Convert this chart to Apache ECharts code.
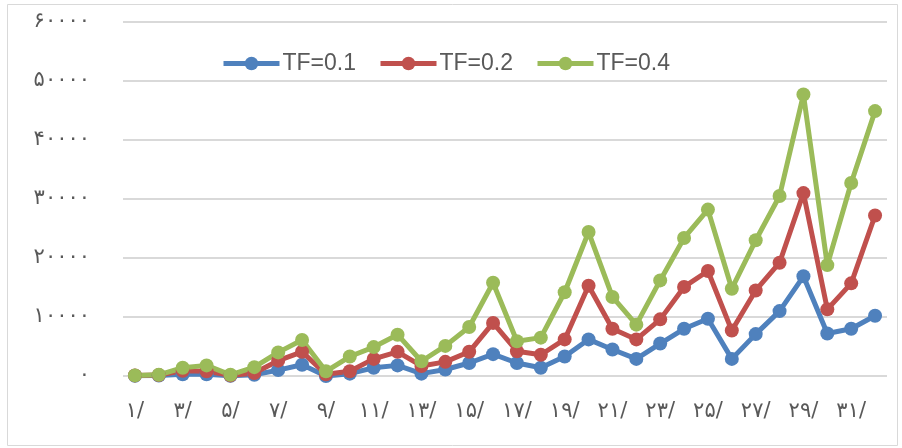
<!DOCTYPE html>
<html>
<head>
<meta charset="utf-8">
<script src="https://cdn.jsdelivr.net/npm/echarts@6/dist/echarts.min.js"></script>
<style>
  html, body { margin: 0; padding: 0; background: #ffffff; }
  #chart { width: 902px; height: 448px; }
</style>
</head>
<body>
<div id="chart"></div>
<script>
// Period labels 1..32 in Persian digits
const categories = [
  '۱/','۲/','۳/','۴/','۵/','۶/','۷/','۸/','۹/','۱۰/','۱۱/','۱۲/','۱۳/','۱۴/','۱۵/','۱۶/',
  '۱۷/','۱۸/','۱۹/','۲۰/','۲۱/','۲۲/','۲۳/','۲۴/','۲۵/','۲۶/','۲۷/','۲۸/','۲۹/','۳۰/','۳۱/','۳۲/'
];

// Value-axis tick labels (0 .. 60000 step 10000)
const yTickLabels = ['۰','۱۰۰۰۰','۲۰۰۰۰','۳۰۰۰۰','۴۰۰۰۰','۵۰۰۰۰','۶۰۰۰۰'];

const seriesNames = ['TF=0.1', 'TF=0.2', 'TF=0.4'];

const tf01 = [50, 80, 300, 300, 50, 200, 1000, 1900, 0, 400, 1400, 1800, 400, 1100, 2200, 3700,
              2200, 1400, 3300, 6200, 4500, 2900, 5500, 8000, 9700, 2900, 7100, 11000, 16900, 7200, 8000, 10200];
const tf02 = [100, 150, 900, 800, 100, 500, 2600, 4100, 300, 800, 2900, 4100, 1700, 2400, 4100, 9000,
              4200, 3600, 6200, 15300, 8000, 6200, 9600, 15100, 17800, 7700, 14500, 19200, 31000, 11300, 15700, 27200];
const tf04 = [100, 200, 1400, 1800, 200, 1500, 4000, 6100, 800, 3300, 4900, 7000, 2500, 5100, 8300, 15800,
              5900, 6500, 14200, 24400, 13400, 8700, 16200, 23400, 28200, 14800, 23000, 30500, 47700, 18800, 32700, 44900];

const colors = ['#4f81bd', '#c0504d', '#9bbb59'];

const chart = echarts.init(document.getElementById('chart'));

function lineSeries(name, data, color) {
  return {
    name: name,
    type: 'line',
    data: data,
    symbol: 'circle',
    symbolSize: 14,
    lineStyle: { width: 5, color: color },
    itemStyle: { color: color },
    emphasis: { disabled: true }
  };
}

chart.setOption({
  animation: false,
  backgroundColor: '#ffffff',
  color: colors,
  graphic: [{
    type: 'rect',
    shape: { x: 7.5, y: 4.5, width: 890, height: 441 },
    style: { fill: 'none', stroke: '#d9d9d9', lineWidth: 1 },
    silent: true
  }],
  legend: {
    left: 216,
    top: 47,
    itemWidth: 56,
    itemHeight: 17,
    itemGap: 22,
    lineStyle: { width: 5 },
    textStyle: { fontFamily: 'Liberation Sans', fontSize: 23, color: '#595959', padding: [0, 0, 0, -2] },
    data: seriesNames
  },
  grid: { left: 123, right: 15, top: 22, bottom: 72 },
  xAxis: {
    type: 'category',
    data: categories,
    boundaryGap: true,
    axisLine: { show: false },
    axisTick: { show: false },
    axisLabel: {
      interval: 1,
      margin: 25,
      fontFamily: 'DejaVu Sans',
      fontSize: 21,
      color: '#595959'
    }
  },
  yAxis: {
    type: 'value',
    min: 0,
    max: 60000,
    interval: 10000,
    axisLine: { show: false },
    axisTick: { show: false },
    splitLine: { lineStyle: { color: '#d9d9d9', width: 2 } },
    axisLabel: {
      margin: 33,
      fontFamily: 'DejaVu Sans',
      fontSize: 21,
      color: '#595959',
      formatter: function (v) { return yTickLabels[Math.round(v / 10000)]; }
    }
  },
  series: [
    lineSeries(seriesNames[0], tf01, colors[0]),
    lineSeries(seriesNames[1], tf02, colors[1]),
    lineSeries(seriesNames[2], tf04, colors[2])
  ]
});
</script>
</body>
</html>
